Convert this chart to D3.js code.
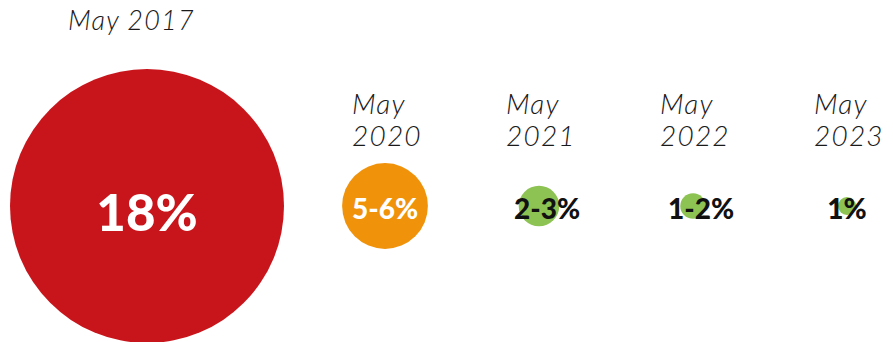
<!DOCTYPE html>
<html>
<head>
<meta charset="utf-8">
<script src="https://cdn.jsdelivr.net/npm/d3@7"></script>
<style>
  html, body { margin: 0; padding: 0; background: #ffffff; }
  svg { display: block; }
  .when { font-family: "Lato", "Open Sans", sans-serif; font-style: italic; font-weight: 300; fill: #1a1a1a; letter-spacing: 1.2px; }
  .val { font-family: "Lato", "Open Sans", sans-serif; font-weight: 900; }
</style>
</head>
<body>
<svg id="chart" width="893" height="342"></svg>
<script>
// Unemployment-rate milestones, one bubble per period
const periods   = ["May 2017", "May 2020", "May 2021", "May 2022", "May 2023"];
const monthPart = ["May", "May", "May", "May", "May"];
const yearPart  = ["2017", "2020", "2021", "2022", "2023"];
const rateLow   = [18, 5, 2, 1, 1];
const rateHigh  = [18, 6, 3, 2, 1];
const labels    = ["18%", "5-6%", "2-3%", "1-2%", "1%"];
const colors    = ["#c8151b", "#f0920a", "#8dc353", "#8dc353", "#8dc353"];

const svg = d3.select("#chart");

const mid = rateLow.map((d, i) => (d + rateHigh[i]) / 2);

// bubble radius grows linearly with the rate
const r = d3.scaleLinear().domain([1, 18]).range([9, 137]);

// first bubble hugs the left edge; the rest share a point scale
const rest = periods.slice(1);
const xRest = d3.scalePoint().domain(rest).range([385, 847]);
const cx = p => p === periods[0] ? 10 + r(mid[0]) : xRest(p);
const cy = 206;

const rows = periods.map((p, i) => ({
  p, i, month: monthPart[i], year: yearPart[i], v: mid[i], label: labels[i], color: colors[i]
}));

// bubbles
svg.selectAll("circle.bubble").data(rows).join("circle")
  .attr("class", "bubble")
  .attr("cx", d => cx(d.p))
  .attr("cy", cy)
  .attr("r", d => r(d.v))
  .attr("fill", d => d.color);

// period captions: first on one line, the others stacked
const first = rows[0];
svg.append("text").attr("class", "when")
  .attr("x", cx(first.p) - 79).attr("y", 30)
  .attr("font-size", 27)
  .text(first.month + " " + first.year);

const cap = svg.selectAll("g.cap").data(rows.slice(1)).join("g").attr("class", "cap");
cap.append("text").attr("class", "when")
  .attr("x", d => cx(d.p) - 33).attr("y", 114)
  .attr("font-size", 28)
  .text(d => d.month);
cap.append("text").attr("class", "when")
  .attr("x", d => cx(d.p) - 33).attr("y", 146)
  .attr("font-size", 28)
  .text(d => d.year);

// value labels
svg.selectAll("text.val").data(rows).join("text")
  .attr("class", "val")
  .attr("x", d => cx(d.p) + (d.i >= 2 && d.i < 4 ? 8 : 0))
  .attr("y", d => d.i === 0 ? 231 : 219)
  .attr("text-anchor", "middle")
  .attr("font-size", d => d.i === 0 ? 51 : 28)
  .attr("fill", d => d.i < 2 ? "#ffffff" : "#111111")
  .text(d => d.label);
</script>
</body>
</html>
